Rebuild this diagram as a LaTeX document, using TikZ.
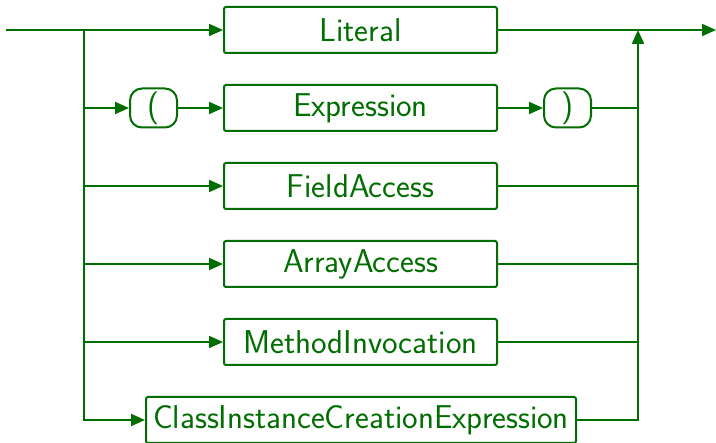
\documentclass[tikz,border=0pt]{standalone}
\usetikzlibrary{arrows.meta}
\definecolor{dg}{RGB}{0,110,0}
\begin{document}
\begin{tikzpicture}[x=1pt,y=-1pt,
  line width=2pt, draw=dg,
  every node/.style={font=\fontsize{33}{38}\sffamily, text=dg},
  nonterm/.style={draw=dg, line width=2pt, rounded corners=2pt, minimum width=273pt, minimum height=46pt, inner sep=0pt, fill=white},
  term/.style={draw=dg, line width=2pt, rounded corners=12pt, minimum width=47pt, minimum height=39pt, inner sep=0pt, fill=white},
  arr/.style={-{Triangle[length=14pt,width=12pt]}}]
\fill[white] (0,0) rectangle (716,443);
\useasboundingbox (0,0) rectangle (716,443);
% nodes
\node[nonterm] (lit) at (360.5,30) {Literal};
\node[term] (lp) at (153.5,108) {(};
\node[nonterm] (expr) at (360.5,108) {Expression};
\node[term] (rp) at (567.5,108) {)};
\node[nonterm] (fa) at (360.5,186) {FieldAccess};
\node[nonterm] (aa) at (360.5,264) {ArrayAccess};
\node[nonterm] (mi) at (360.5,342) {MethodInvocation};
\node[nonterm, minimum width=430pt] (ci) at (361,420) {ClassInstanceCreationExpression};
% coordinates
\coordinate (start) at (6,30);
\coordinate (jl0) at (84,30);
\coordinate (jl1) at (84,108);
\coordinate (jl2) at (84,186);
\coordinate (jl3) at (84,264);
\coordinate (jl4) at (84,342);
\coordinate (jr0) at (638,30);
\coordinate (jr1) at (638,108);
\coordinate (jr2) at (638,186);
\coordinate (jr3) at (638,264);
\coordinate (jr4) at (638,342);
\coordinate (stop) at (716,30);
% connectors
\draw[arr] (start) -- (lit.west);
\draw[arr] (lit.east) -- (stop);
\draw[arr] (jl0) |- (ci.west);
\draw[arr] (jl1) -- (lp.west);
\draw[arr] (lp.east) -- (expr.west);
\draw[arr] (expr.east) -- (rp.west);
\draw[arr] (jl2) -- (fa.west);
\draw[arr] (jl3) -- (aa.west);
\draw[arr] (jl4) -- (mi.west);
\draw[arr] (ci.east) -| (jr0);
\draw (rp.east) -- (jr1);
\draw (fa.east) -- (jr2);
\draw (aa.east) -- (jr3);
\draw (mi.east) -- (jr4);
\end{tikzpicture}
\end{document}
